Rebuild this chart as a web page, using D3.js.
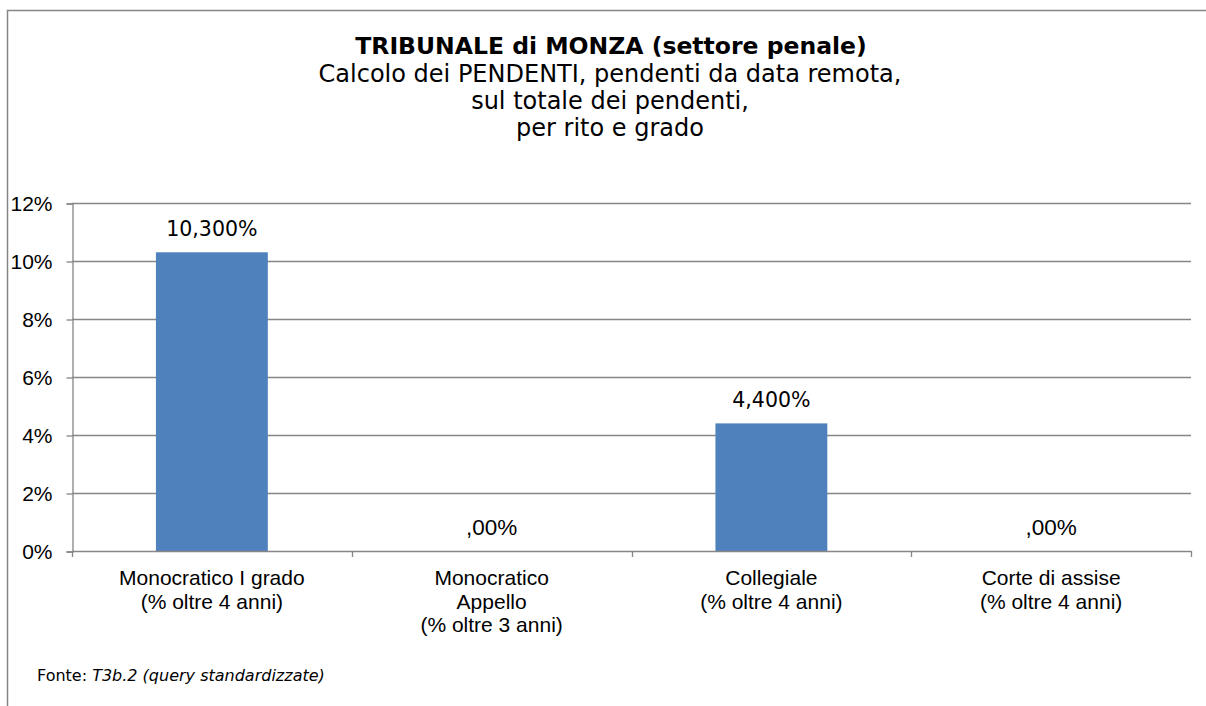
<!DOCTYPE html>
<html>
<head>
<meta charset="utf-8">
<script src="https://cdn.jsdelivr.net/npm/d3@7"></script>
<style>
  body { margin: 0; background: #fff; }
  svg { display: block; }
</style>
</head>
<body>
<svg id="chart" width="1206" height="706"></svg>
<script>
// data
const categories = [
  ['Monocratico I grado', '(% oltre 4 anni)'],
  ['Monocratico', 'Appello', '(% oltre 3 anni)'],
  ['Collegiale', '(% oltre 4 anni)'],
  ['Corte di assise', '(% oltre 4 anni)']
]
const values = [10.3, 0, 4.4, 0]
const valueLabels = ['10,300%', ',00%', '4,400%', ',00%']
const yTicks = [0, 2, 4, 6, 8, 10, 12]
const titleLines = ['Calcolo dei PENDENTI, pendenti da data remota,', 'sul totale dei pendenti,', 'per rito e grado']

const svg = d3.select('#chart')
const margin = { left: 72, right: 1191, top: 203, bottom: 551 }
const grey = '#868686'

// outer frame (only left and top edges visible)
svg.append('path')
  .attr('d', 'M7.5,706 V10.5 H1206')
  .attr('fill', 'none')
  .attr('stroke', grey)
  .attr('stroke-width', 1.5)

// title
const title = svg.append('text')
  .attr('text-anchor', 'middle')
  .attr('font-family', 'DejaVu Sans, Verdana, sans-serif')
  .attr('fill', '#000')
title.append('tspan')
  .attr('x', 611).attr('y', 54)
  .attr('font-weight', 'bold').attr('font-size', 23.5)
  .text('TRIBUNALE di MONZA (settore penale)')
titleLines.forEach((t, i) => {
  title.append('tspan')
    .attr('x', 610).attr('y', 82 + i * 27)
    .attr('font-size', 24)
    .text(t)
})

const x = d3.scaleBand()
  .domain(d3.range(categories.length))
  .range([margin.left, margin.right])
  .paddingInner(0.6)
  .paddingOuter(0.3)

const y = d3.scaleLinear()
  .domain([0, 12])
  .range([margin.bottom, margin.top])

// gridlines
svg.append('g')
  .selectAll('line')
  .data(yTicks.filter(d => d > 0))
  .enter().append('line')
  .attr('x1', margin.left).attr('x2', margin.right)
  .attr('y1', d => Math.round(y(d)) + 0.5).attr('y2', d => Math.round(y(d)) + 0.5)
  .attr('stroke', grey)
  .attr('stroke-width', 1.3)

// y axis
const yAxis = d3.axisLeft(y)
  .tickValues(yTicks)
  .tickSize(6)
  .tickPadding(14)
  .tickFormat(d => d + '%')

const yG = svg.append('g')
  .attr('transform', `translate(${margin.left + 0.5},0.5)`)
  .call(yAxis)
yG.select('.domain').attr('stroke', grey).attr('stroke-width', 1.3)
yG.selectAll('.tick line').attr('stroke', grey).attr('stroke-width', 1.3)
yG.selectAll('.tick text')
  .attr('font-family', 'Liberation Sans, Arial, sans-serif')
  .attr('font-size', 21)
  .attr('fill', '#000')

// bars
svg.append('g')
  .selectAll('rect')
  .data(values)
  .enter().append('rect')
  .attr('x', (d, i) => x(i))
  .attr('width', x.bandwidth())
  .attr('y', d => y(d))
  .attr('height', d => y(0) - y(d))
  .attr('fill', '#4F81BD')

// x axis baseline and boundary ticks
const step = x.step()
const boundaries = d3.range(categories.length + 1).map(i => margin.left + i * step)
svg.append('line')
  .attr('x1', margin.left).attr('x2', margin.right)
  .attr('y1', margin.bottom + 0.5).attr('y2', margin.bottom + 0.5)
  .attr('stroke', grey).attr('stroke-width', 1.3)
svg.append('g')
  .selectAll('line')
  .data(boundaries)
  .enter().append('line')
  .attr('x1', d => Math.round(d) + 0.5).attr('x2', d => Math.round(d) + 0.5)
  .attr('y1', margin.bottom).attr('y2', margin.bottom + 6)
  .attr('stroke', grey).attr('stroke-width', 1.3)

// category labels
const catText = svg.append('g')
  .selectAll('text')
  .data(categories)
  .enter().append('text')
  .attr('text-anchor', 'middle')
  .attr('font-family', 'Liberation Sans, Arial, sans-serif')
  .attr('font-size', 21)
  .attr('fill', '#000')
catText.each(function(lines, i) {
  const cx = x(i) + x.bandwidth() / 2
  lines.forEach((l, j) => {
    d3.select(this).append('tspan')
      .attr('x', cx)
      .attr('y', 585 + j * 23.5)
      .text(l)
  })
})

// value labels
svg.append('g')
  .selectAll('text')
  .data(values)
  .enter().append('text')
  .attr('x', (d, i) => x(i) + x.bandwidth() / 2)
  .attr('y', d => y(d) - 16)
  .attr('text-anchor', 'middle')
  .attr('font-family', d => d > 0 ? 'DejaVu Sans, Verdana, sans-serif' : 'Liberation Sans, Arial, sans-serif')
  .attr('font-size', d => d > 0 ? 20.5 : 22.5)
  .attr('fill', '#000')
  .text((d, i) => valueLabels[i])

// source note
const note = svg.append('text')
  .attr('x', 37).attr('y', 681)
  .attr('font-family', 'DejaVu Sans, Verdana, sans-serif')
  .attr('font-size', 16)
  .attr('fill', '#000')
note.append('tspan').text('Fonte: ')
note.append('tspan').attr('font-style', 'italic').text('T3b.2 (query standardizzate)')
</script>
</body>
</html>
